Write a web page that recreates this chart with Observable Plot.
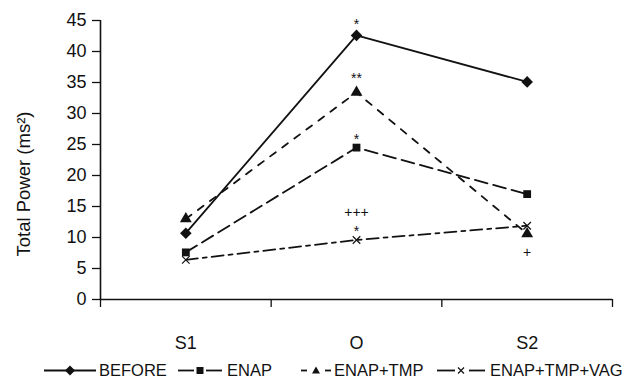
<!DOCTYPE html>
<html><head><meta charset="utf-8">
<script src="https://cdn.jsdelivr.net/npm/d3@7"></script>
<script src="https://cdn.jsdelivr.net/npm/@observablehq/plot@0.6"></script>
<style>
body{margin:0;background:#fff;font-family:"Liberation Sans",Arial,sans-serif;}
#legend{position:relative;height:30px;font-size:16.5px;color:#111;margin-top:8px;white-space:nowrap}
#legend .it{position:absolute;top:0;line-height:20px}
#legend svg{position:absolute;top:4px}
</style></head><body>
<div id="chart"></div>
<div id="legend"></div>
<script>
const categories = ["S1", "O", "S2"];
const seriesNames = ["BEFORE", "ENAP", "ENAP+TMP", "ENAP+TMP+VAG"];
const before = [10.7, 42.6, 35.1];
const enap = [7.6, 24.5, 17.0];
const enapTmp = [13.0, 33.4, 10.6];
const enapTmpVag = [6.4, 9.6, 11.9];
const yTicks = [0, 5, 10, 15, 20, 25, 30, 35, 40, 45];
const annCategory = ["O", "O", "O", "O", "O", "S2"];
const annValue = [44.4, 35.6, 25.8, 14.0, 10.9, 7.6];
const annText = ["*", "**", "*", "+++", "*", "+"];

const seriesValues = [before, enap, enapTmp, enapTmpVag];
const symbols = ["diamond2", "square", "triangle", "asterisk"];
const dashes = [null, "13,6", "7,8", "12,5,4,5"];
const xi = c => categories.indexOf(c) + 0.5;

const data = [];
seriesNames.forEach((s, si) => categories.forEach((c, ci) => data.push({series: s, si, x: ci + 0.5, y: seriesValues[si][ci]})));
const ann = annText.map((t, i) => ({x: xi(annCategory[i]), y: annValue[i], t}));

const marks = [];
seriesNames.forEach((s, si) => {
  const d = data.filter(e => e.si === si);
  marks.push(Plot.line(d, {x: "x", y: "y", stroke: "#111", strokeWidth: 1.8, strokeDasharray: dashes[si]}));
  if (symbols[si] === "asterisk")
    marks.push(Plot.dot(d, {x: "x", y: "y", symbol: "times", stroke: "#111", strokeWidth: 1.2, r: 3.5}));
  else
    marks.push(Plot.dot(d, {x: "x", y: "y", symbol: symbols[si], fill: "#111", stroke: "none", r: symbols[si] === "diamond2" ? 5.2 : 4.4}));
});

const chart = Plot.plot({
  width: 638, height: 352,
  marginLeft: 100, marginRight: 26, marginTop: 20, marginBottom: 53,
  style: {fontFamily: "Liberation Sans, Arial, sans-serif", background: "#fff", color: "#111"},
  x: {domain: [0, 3], axis: null},
  y: {domain: [0, 45], axis: null},
  marks: [
    Plot.axisY({ticks: yTicks, tickSize: 8, tickPadding: 6, fontSize: 18, label: null, strokeWidth: 1.3}),
    Plot.axisX({ticks: [0, 1, 2, 3], tickSize: 8, tickFormat: () => "", label: null, strokeWidth: 1.3}),
    Plot.axisX({ticks: [0.5, 1.5, 2.5], tickSize: 0, tickPadding: 37, fontSize: 18, tickFormat: d => categories[Math.floor(d)], label: null}),
    Plot.ruleX([0], {stroke: "#111", strokeWidth: 1.6}),
    Plot.ruleY([0], {stroke: "#111", strokeWidth: 1.6}),
    ...marks,
    Plot.text(ann, {x: "x", y: "y", text: "t", fontSize: 14, fill: "#111"}),
    Plot.text(["Total Power (ms²)"], {frameAnchor: "left", textAnchor: "middle", dx: -76, dy: 24, rotate: -90, fontSize: 18.5, fill: "#111"})
  ]
});
document.getElementById("chart").appendChild(chart);

const lg = document.getElementById("legend");
const swatchLeft = [44, 178, 301, 437];
const swatchW = [52, 44, 30, 48];
const textLeft = [99, 227, 334, 490];
seriesNames.forEach((s, si) => {
  const w = swatchW[si];
  let sym = "";
  if (symbols[si] === "diamond2") sym = `<path d="M${w/2},1.5 L${w/2+5},6.5 L${w/2},11.5 L${w/2-5},6.5Z" fill="#111"/>`;
  if (symbols[si] === "square") sym = `<rect x="${w/2-3.5}" y="3" width="7" height="7" fill="#111"/>`;
  if (symbols[si] === "triangle") sym = `<path d="M${w/2},2.5 L${w/2+4},9.5 L${w/2-4},9.5Z" fill="#111"/>`;
  if (symbols[si] === "asterisk") sym = `<path d="M${w/2-3},3.5 L${w/2+3},9.5 M${w/2+3},3.5 L${w/2-3},9.5" stroke="#111" stroke-width="1.2"/>`;
  let line = `<line x1="0" x2="${w}" y1="6.5" y2="6.5" stroke="#111" stroke-width="1.8"/>`;
  if (si === 1) line = `<line x1="0" x2="${w/2-6}" y1="6.5" y2="6.5" stroke="#111" stroke-width="1.8"/><line x1="${w/2+6}" x2="${w}" y1="6.5" y2="6.5" stroke="#111" stroke-width="1.8"/>`;
  if (si === 2) line = `<line x1="0" x2="6" y1="6.5" y2="6.5" stroke="#111" stroke-width="1.8"/><line x1="${w-6}" x2="${w}" y1="6.5" y2="6.5" stroke="#111" stroke-width="1.8"/>`;
  if (si === 3) line = `<line x1="0" x2="${w/2-6}" y1="6.5" y2="6.5" stroke="#111" stroke-width="1.8"/><line x1="${w/2+8}" x2="${w}" y1="6.5" y2="6.5" stroke="#111" stroke-width="1.8"/>`;
  const svg = document.createElementNS("http://www.w3.org/2000/svg", "svg");
  svg.setAttribute("width", w); svg.setAttribute("height", 13);
  svg.style.left = swatchLeft[si] + "px";
  svg.innerHTML = line + sym;
  lg.appendChild(svg);
  const span = document.createElement("span");
  span.className = "it";
  span.style.left = textLeft[si] + "px";
  span.textContent = s;
  lg.appendChild(span);
});
</script>
</body></html>
